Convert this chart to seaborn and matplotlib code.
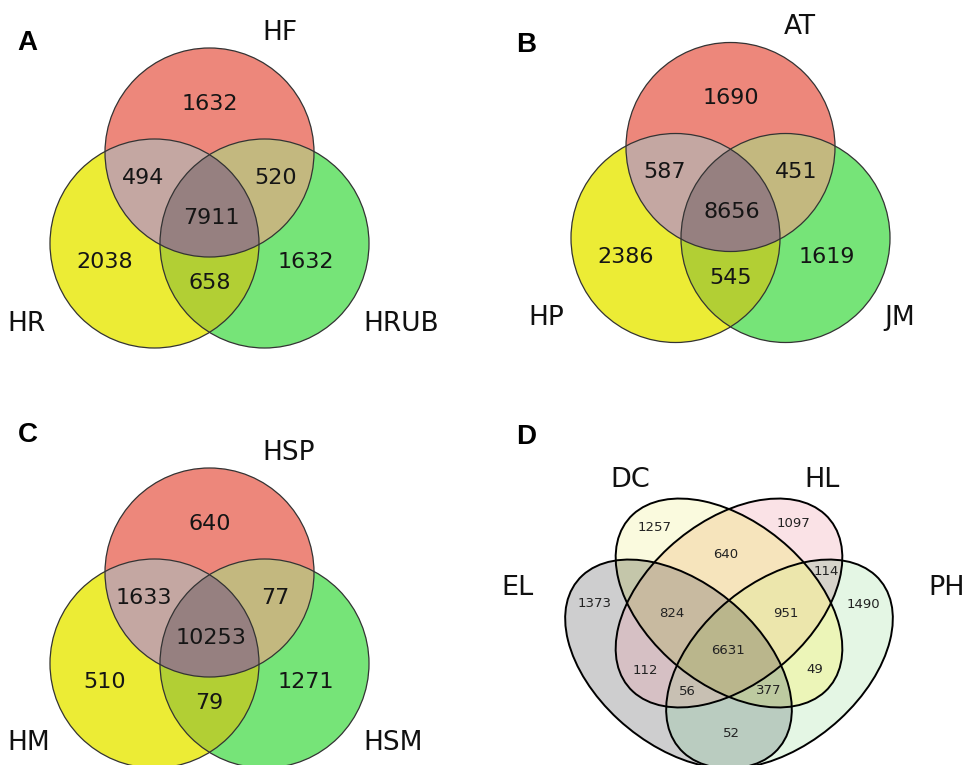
import numpy as np
import matplotlib
matplotlib.use("Agg")
import matplotlib.pyplot as plt
from matplotlib.patches import Circle, Ellipse
from matplotlib.transforms import Affine2D
import seaborn as sns

sns.set_theme(style="white")
plt.rcParams["font.family"] = "DejaVu Sans"

# ── Data ───────────────────────────────────────────────────────────────────
# 3-set regions coded as bits: top=1, left=2, right=4
REGIONS_3 = [1, 2, 4, 3, 5, 6, 7]

A_SETS   = ["HF", "HR", "HRUB"]
A_COUNTS = [1632, 2038, 1632, 494, 520, 658, 7911]

B_SETS   = ["AT", "HP", "JM"]
B_COUNTS = [1690, 2386, 1619, 587, 451, 545, 8656]

C_SETS   = ["HSP", "HM", "HSM"]
C_COUNTS = [640, 510, 1271, 1633, 77, 79, 10253]

# 4-set regions coded as bits: EL=1, DC=2, HL=4, PH=8
D_SETS    = ["EL", "DC", "HL", "PH"]
D_REGIONS = [1, 2, 4, 8, 6, 12, 7, 14, 15, 5, 10, 13, 11, 9]
D_COUNTS  = [1373, 1257, 1097, 1490, 640, 114, 824, 951, 6631, 112, 49, 56, 377, 52]

# ── Layout / style ─────────────────────────────────────────────────────────
W, H = 966, 765
SS = 2  # raster supersampling

R3 = 104.5
CIRC_OFF = [(0, 0), (-55, 91), (55, 91)]
NUM_OFF_3 = {1: (0, -49), 2: (-104.5, 109.5), 4: (96, 109.5), 3: (-66, 25),
             5: (66, 25), 6: (0, 130.5), 7: (1.5, 65)}
SET_OFF_3 = [(53, -120), (-202, 171), (154, 171)]
COLORS_3 = {1: "#ee877b", 2: "#ecec36", 4: "#76e478", 3: "#c4a7a2",
            5: "#c3b97f", 6: "#b2cf35", 7: "#968080"}

D_CENTER = (729, 603)
D_STRETCH = 1.085
D_A, D_B = 125.2, 78.4
D_ELL_OFF = [(-50.5, 61), (0, 0), (0, 0), (50.5, 61)]
D_ANGLES = [45, 45, -45, -45]
D_NUM_OFF = {1: (-134, 0.3), 2: (-74, -75.7), 4: (64.3, -79.7), 8: (134.3, 2),
             6: (-3, -48), 12: (97.7, -31.3), 7: (-57.3, 10.3), 14: (57, 10.3),
             15: (-0.7, 47.7), 5: (-83.3, 67), 10: (85.3, 66.3), 13: (-41.7, 88.7),
             11: (39.3, 87.7), 9: (2.7, 130.3)}
D_SET_POS = [(-212, -15), (-99, -123), (92.7, -123), (217.7, -15)]
COLORS_4 = {1: "#cececf", 2: "#fafade", 4: "#fae2e6", 8: "#e4f6e4",
            3: "#c4c6aa", 5: "#d6c0c4", 9: "#baccc0", 6: "#f6e4bc",
            10: "#ecf5b9", 12: "#d6d4ca", 7: "#c8baa0", 11: "#becaa0",
            13: "#c8c0b4", 14: "#ece6ac", 15: "#bab68c"}

PANELS_3 = [("A", (27.5, 43), (209.5, 152.5), A_SETS, A_COUNTS),
            ("B", (526, 45), (730.5, 147), B_SETS, B_COUNTS),
            ("C", (27.5, 435), (209.5, 572.5), C_SETS, C_COUNTS)]
D_LETTER_POS = (526.5, 437)

fig = plt.figure(figsize=(W / 100, H / 100), dpi=100)
ax = fig.add_axes([0, 0, 1, 1])
ax.set_xlim(0, W)
ax.set_ylim(H, 0)
ax.axis("off")

xs = (np.arange(W * SS) + 0.5) / SS
ys = (np.arange(H * SS) + 0.5) / SS
X, Y = np.meshgrid(xs, ys)
img = np.ones((H * SS, W * SS, 3))


def paint(code, colors):
    for k, c in colors.items():
        img[code == k] = matplotlib.colors.to_rgb(c)


def panel_letter(pos, letter):
    ax.text(*pos, letter, ha="center", va="center", fontsize=20,
            fontweight="bold", family="Liberation Sans", color="black", zorder=4)


# ── Three-set panels ───────────────────────────────────────────────────────
for letter, lpos, (cx, cy), sets, counts in PANELS_3:
    code = np.zeros(X.shape, dtype=int)
    for i, (ox, oy) in enumerate(CIRC_OFF):
        inside = (X - cx - ox) ** 2 + (Y - cy - oy) ** 2 <= R3 ** 2
        code |= inside.astype(int) << i
        ax.add_patch(Circle((cx + ox, cy + oy), R3, fill=False,
                            ec="#333333", lw=0.9, zorder=3))
    paint(code, COLORS_3)
    for reg, n in zip(REGIONS_3, counts):
        dx, dy = NUM_OFF_3[reg]
        ax.text(cx + dx, cy + dy, str(n), ha="center", va="center",
                fontsize=16, color="#151515", zorder=4)
    for name, (dx, dy) in zip(sets, SET_OFF_3):
        ax.text(cx + dx, cy + dy, name, ha="left", va="center",
                fontsize=19, color="#111111", zorder=4)
    panel_letter(lpos, letter)

# ── Four-set panel ─────────────────────────────────────────────────────────
cx, cy = D_CENTER
code = np.zeros(X.shape, dtype=int)
for i, ((ox, oy), ang) in enumerate(zip(D_ELL_OFF, D_ANGLES)):
    ex, ey = cx + ox, cy + oy
    dx = (X - ex) / D_STRETCH
    dy = Y - ey
    t = np.deg2rad(ang)
    u = dx * np.cos(t) + dy * np.sin(t)
    v = -dx * np.sin(t) + dy * np.cos(t)
    inside = (u / D_A) ** 2 + (v / D_B) ** 2 <= 1
    code |= inside.astype(int) << i
    tr = Affine2D().scale(D_STRETCH, 1).translate(ex, ey) + ax.transData
    ax.add_patch(Ellipse((0, 0), 2 * D_A, 2 * D_B, angle=ang, fill=False,
                         ec="black", lw=1.4, transform=tr, zorder=3))
paint(code, COLORS_4)
for reg, n in zip(D_REGIONS, D_COUNTS):
    dx, dy = D_NUM_OFF[reg]
    ax.text(cx + dx, cy + dy, str(n), ha="center", va="center",
            fontsize=9.5, color="#222222", zorder=4)
for name, (dx, dy) in zip(D_SETS, D_SET_POS):
    ax.text(cx + dx, cy + dy, name, ha="center", va="center",
            fontsize=19.5, color="#111111", zorder=4)
panel_letter(D_LETTER_POS, "D")

ax.imshow(img, extent=(0, W, H, 0), interpolation="antialiased", zorder=1,
          aspect="auto")
ax.set_xlim(0, W)
ax.set_ylim(H, 0)

fig.savefig("out.png", dpi=100)
plt.close(fig)
